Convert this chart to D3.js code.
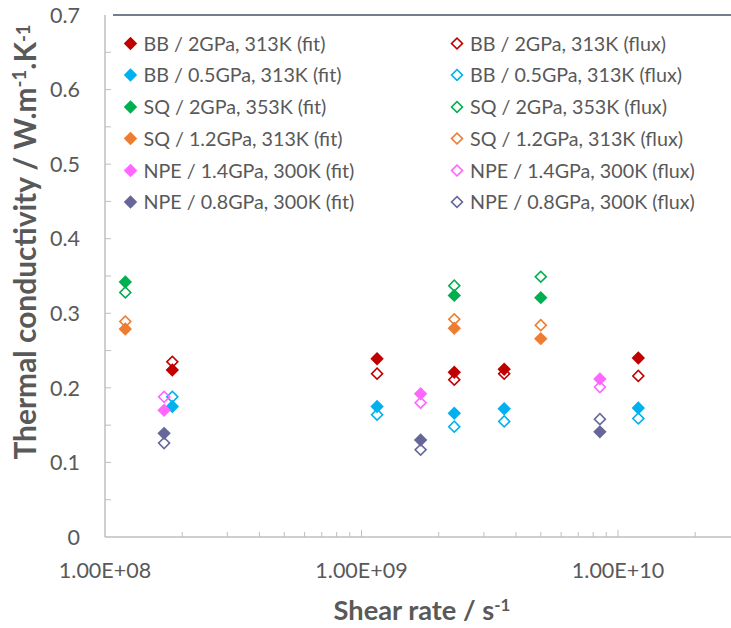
<!DOCTYPE html>
<html>
<head>
<meta charset="utf-8">
<script src="https://cdn.jsdelivr.net/npm/d3@7"></script>
<style>
  html, body { margin: 0; padding: 0; background: #fff; }
  svg { display: block; font-family: Lato, "Open Sans", sans-serif; }
</style>
</head>
<body>
<svg id="chart" width="731" height="628"></svg>
<script>
// ---- Data ----
const seriesNames = [
  "BB / 2GPa, 313K (fit)", "BB / 2GPa, 313K (flux)",
  "BB / 0.5GPa, 313K (fit)", "BB / 0.5GPa, 313K (flux)",
  "SQ / 2GPa, 353K (fit)", "SQ / 2GPa, 353K (flux)",
  "SQ / 1.2GPa, 313K (fit)", "SQ / 1.2GPa, 313K (flux)",
  "NPE / 1.4GPa, 300K (fit)", "NPE / 1.4GPa, 300K (flux)",
  "NPE / 0.8GPa, 300K (fit)", "NPE / 0.8GPa, 300K (flux)"
];
const seriesColors = ["#C00000", "#C00000", "#00B0F0", "#00B0F0", "#00B050", "#00B050",
                      "#ED7D31", "#ED7D31", "#FF66FF", "#FF66FF", "#666699", "#666699"];
const seriesFilled = [true, false, true, false, true, false, true, false, true, false, true, false];

const shearBB2 = [1.83e8, 1.15e9, 2.3e9, 3.6e9, 1.2e10];
const shearBB05 = [1.83e8, 1.15e9, 2.3e9, 3.6e9, 1.2e10];
const shearSQ = [1.2e8, 2.3e9, 5.0e9];
const shearNPE = [1.7e8, 1.7e9, 8.5e9];

const bb2Fit   = [0.224, 0.239, 0.221, 0.225, 0.240];
const bb2Flux  = [0.235, 0.219, 0.211, 0.219, 0.216];
const bb05Fit  = [0.175, 0.175, 0.166, 0.172, 0.173];
const bb05Flux = [0.188, 0.164, 0.148, 0.155, 0.159];
const sq2Fit   = [0.342, 0.324, 0.321];
const sq2Flux  = [0.328, 0.337, 0.349];
const sq12Fit  = [0.279, 0.280, 0.266];
const sq12Flux = [0.289, 0.292, 0.284];
const npe14Fit  = [0.170, 0.192, 0.212];
const npe14Flux = [0.188, 0.180, 0.201];
const npe08Fit  = [0.139, 0.130, 0.141];
const npe08Flux = [0.126, 0.117, 0.158];

const seriesX = [shearBB2, shearBB2, shearBB05, shearBB05, shearSQ, shearSQ, shearSQ, shearSQ,
                 shearNPE, shearNPE, shearNPE, shearNPE];
const seriesY = [bb2Fit, bb2Flux, bb05Fit, bb05Flux, sq2Fit, sq2Flux, sq12Fit, sq12Flux,
                 npe14Fit, npe14Flux, npe08Fit, npe08Flux];

const yTicks = [0, 0.1, 0.2, 0.3, 0.4, 0.5, 0.6, 0.7];
const xMajorTicks = [1e8, 1e9, 1e10];
const xTickLabels = ["1.00E+08", "1.00E+09", "1.00E+10"];

// ---- Layout ----
const svg = d3.select("#chart");
const pLeft = 105, pRight = 731, pTop = 15, pBottom = 537;
const x = d3.scaleLog().domain([1e8, Math.pow(10, 8 + (pRight - pLeft) / 256.5)]).range([pLeft, pRight]);
const y = d3.scaleLinear().domain([0, 0.7]).range([pBottom, pTop]);
const textCol = "#595959";
const axisCol = "#BFBFBF";

// fit a text node's font size so its width equals target
function fitWidth(sel, target) {
  const fs = parseFloat(sel.attr("font-size"));
  const w = sel.node().getComputedTextLength();
  const nf = fs * target / w;
  sel.attr("font-size", nf);
  sel.selectAll("tspan.sup").attr("font-size", nf * 0.62);
  return nf;
}

// minor x ticks
const xMinor = [];
for (let e = 8; e <= 10; e++) for (let m = 2; m <= 9; m++) { const v = m * Math.pow(10, e); if (v <= x.domain()[1]) xMinor.push(v); }
svg.append("g").selectAll("line").data(xMinor).join("line")
  .attr("x1", d => x(d)).attr("x2", d => x(d))
  .attr("y1", pBottom).attr("y2", pBottom - 5)
  .attr("stroke", axisCol).attr("stroke-width", 1);
svg.append("g").selectAll("line").data(xMajorTicks.slice(1)).join("line")
  .attr("x1", d => x(d)).attr("x2", d => x(d))
  .attr("y1", pBottom).attr("y2", pBottom - 7)
  .attr("stroke", axisCol).attr("stroke-width", 1);

// y ticks every 0.05
const yMinor = d3.range(1, 14).map(i => i * 0.05);
svg.append("g").selectAll("line").data(yMinor).join("line")
  .attr("x1", pLeft).attr("x2", pLeft + 6)
  .attr("y1", d => y(d)).attr("y2", d => y(d))
  .attr("stroke", axisCol).attr("stroke-width", 1);

// axes lines
svg.append("line").attr("x1", pLeft).attr("x2", pRight).attr("y1", pBottom).attr("y2", pBottom)
  .attr("stroke", axisCol).attr("stroke-width", 1.5);
svg.append("line").attr("x1", pLeft).attr("x2", pLeft).attr("y1", pTop).attr("y2", pBottom)
  .attr("stroke", axisCol).attr("stroke-width", 1.5);
svg.append("line").attr("x1", 113).attr("x2", pRight).attr("y1", pTop).attr("y2", pTop)
  .attr("stroke", "#44546A").attr("stroke-width", 1.5);

// y tick labels
svg.append("g").selectAll("text").data(yTicks).join("text")
  .attr("x", 80).attr("y", d => y(d)).attr("dy", "0.36em")
  .attr("text-anchor", "end").attr("fill", textCol).attr("font-size", 21.5)
  .text(d => d === 0 ? "0" : d3.format(".1f")(d));

// x tick labels
svg.append("g").selectAll("text").data(xMajorTicks).join("text")
  .attr("x", d => x(d)).attr("y", 570).attr("dy", "0.36em")
  .attr("text-anchor", "middle").attr("fill", textCol).attr("font-size", 21.5)
  .text((d, i) => xTickLabels[i]);

// axis titles
const xt = svg.append("text").attr("x", 422).attr("y", 620)
  .attr("text-anchor", "middle").attr("fill", textCol).attr("font-size", 24).attr("font-weight", "bold");
xt.append("tspan").text("Shear rate / s");
xt.append("tspan").attr("class", "sup").attr("dy", "-0.55em").attr("font-size", 15).text("-1");
const titleFs = fitWidth(xt, 177);

const yt = svg.append("text").attr("transform", "translate(36,242) rotate(-90)")
  .attr("text-anchor", "middle").attr("fill", textCol).attr("font-size", titleFs).attr("font-weight", "bold");
yt.append("tspan").text("Thermal conductivity / W.m");
yt.append("tspan").attr("class", "sup").attr("dy", "-0.55em").attr("font-size", titleFs * 0.62).text("-1");
yt.append("tspan").attr("dy", "0.34em").text(".K");
yt.append("tspan").attr("class", "sup").attr("dy", "-0.34em").attr("font-size", titleFs * 0.62).text("-1");
fitWidth(yt, 435);

// markers
const diamondFilled = d3.symbol().type(d3.symbolSquare).size(90)();
const diamondOpen = d3.symbol().type(d3.symbolSquare).size(60)();

function drawMarker(g, filled, color) {
  g.append("path").attr("d", filled ? diamondFilled : diamondOpen)
    .attr("transform", "rotate(45)")
    .attr("fill", filled ? color : "none")
    .attr("stroke", filled ? "none" : color)
    .attr("stroke-width", filled ? 0 : 1.6);
}

seriesNames.forEach((name, si) => {
  const pts = seriesY[si].map((v, i) => ({ sx: seriesX[si][i], v }));
  const g = svg.append("g");
  g.selectAll("g").data(pts).join("g")
    .attr("transform", d => `translate(${x(d.sx)},${y(d.v)})`)
    .each(function() { drawMarker(d3.select(this), seriesFilled[si], seriesColors[si]); });
});

// legend
const legendRowY = [43.5, 75, 107, 138.5, 170.5, 202];
const legendColX = [130.5, 457];
let legendFs = null;
seriesNames.forEach((name, si) => {
  const row = Math.floor(si / 2), col = si % 2;
  const g = svg.append("g").attr("transform", `translate(${legendColX[col]},${legendRowY[row]})`);
  drawMarker(g, seriesFilled[si], seriesColors[si]);
  const t = g.append("text").attr("x", 13).attr("dy", "0.36em")
    .attr("fill", textCol).attr("font-size", legendFs || 18).text(name);
  if (si === 0) legendFs = fitWidth(t, 182);
});
</script>
</body>
</html>
